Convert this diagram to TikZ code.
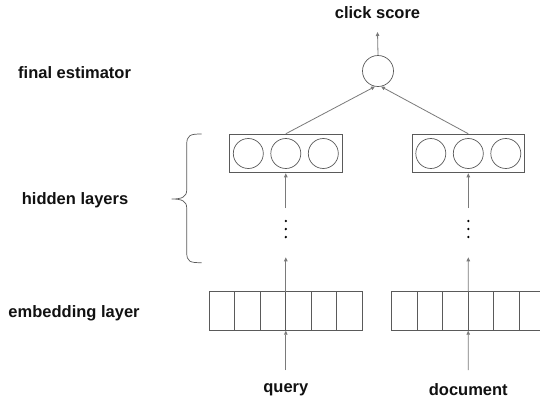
\documentclass[tikz,border=0pt]{standalone}
\usepackage{fontspec}
\setmainfont{Liberation Sans}
\usetikzlibrary{arrows.meta}
\definecolor{boxc}{HTML}{5a5a5a}
\definecolor{arrc}{HTML}{7a7a7a}
\definecolor{txtc}{HTML}{111111}
\begin{document}
\begin{tikzpicture}[x=1pt,y=-1pt,
 lbl/.style={font=\fontsize{16.5}{18}\selectfont\bfseries, text=txtc, inner sep=0},
 box/.style={draw=boxc, line width=0.8pt, minimum height=38.7pt, inner sep=0},
 unit/.style={draw=boxc, circle, line width=0.7pt, minimum size=30pt, inner sep=0},
 cell/.style={draw=boxc, line width=0.8pt, minimum width=25.5pt, minimum height=39pt, inner sep=0, outer sep=0},
 arr/.style={draw=arrc, line width=0.8pt, -{Triangle[length=4pt,width=3.5pt]}},
 vdot/.style={circle, fill=black, inner sep=0, minimum size=2.6pt}]
\useasboundingbox (0,0) rectangle (540,399);
\fill[white] (0,0) rectangle (540,399);

% left labels
\node[lbl, anchor=west] (lfinal) at (18,72.7) {final estimator};
\node[lbl, anchor=west] (lhidden) at (21.7,200) {hidden layers};
\node[lbl, anchor=west] (lembed) at (8.3,313.3) {embedding layer};

% brace
\draw[draw=boxc, line width=0.7pt]
  (201.7,134) .. controls (190,134) and (186.7,135) .. (186.7,145)
  -- (186.7,190) .. controls (186.7,197) and (182,199) .. (171.7,199)
  .. controls (182,199) and (186.7,201) .. (186.7,208)
  -- (186.7,252) .. controls (186.7,262) and (190,262.7) .. (201.7,262.7);

% output
\node[lbl] (score) at (377.5,13) {click score};
\node[unit, minimum size=31pt] (est) at (378,71) {};
\coordinate (out) at (377.5,32);
\draw[arr] (est.north) -- (out);

% hidden boxes
\node[box, minimum width=113pt] (hl) at (285.8,153.5) {};
\node[box, minimum width=112pt] (hr) at (468.3,153.5) {};
\foreach \k/\dx in {1/-37.5,2/0,3/37.5}{
  \node[unit] (hl\k) at ({285.8+\dx},153.5) {};
  \node[unit] (hr\k) at ({468.3+\dx},153.5) {};
}
\draw[arr] (hl.north) -- (est.-101);
\draw[arr] (hr.north) -- (est.-79);

% embedding layers
\foreach \i in {1,...,6}{
  \node[cell] (el\i) at ({222.05+25.5*(\i-1)},311.2) {};
  \node[cell] (er\i) at ({404.45+25.5*(\i-1)},311.2) {};
}

% dots
\foreach \k/\yy in {1/221,2/229,3/237}{
  \node[vdot] (ql\k) at (285.8,\yy) {};
  \node[vdot] (qr\k) at (468.3,\yy) {};
}

% vertical arrows, left
\coordinate (lup) at (285.8,208);
\coordinate (llow) at (285.8,257.3);
\coordinate (lin) at (285.8,370);
\draw[arr] (lup) -- (hl.south);
\draw[arr] (el3.north east) -- (llow);
\draw[arr] (lin) -- (el3.south east);

% vertical arrows, right
\coordinate (rup) at (468.3,208);
\coordinate (rlow) at (468.3,257.3);
\coordinate (rin) at (468.3,370);
\draw[arr] (rup) -- (hr.south);
\draw[arr] (er3.north east) -- (rlow);
\draw[arr] (rin) -- (er3.south east);

% input labels
\node[lbl] (query) at (285.8,390) {query};
\node[lbl] (doc) at (468.3,390) {document};
\end{tikzpicture}
\end{document}
